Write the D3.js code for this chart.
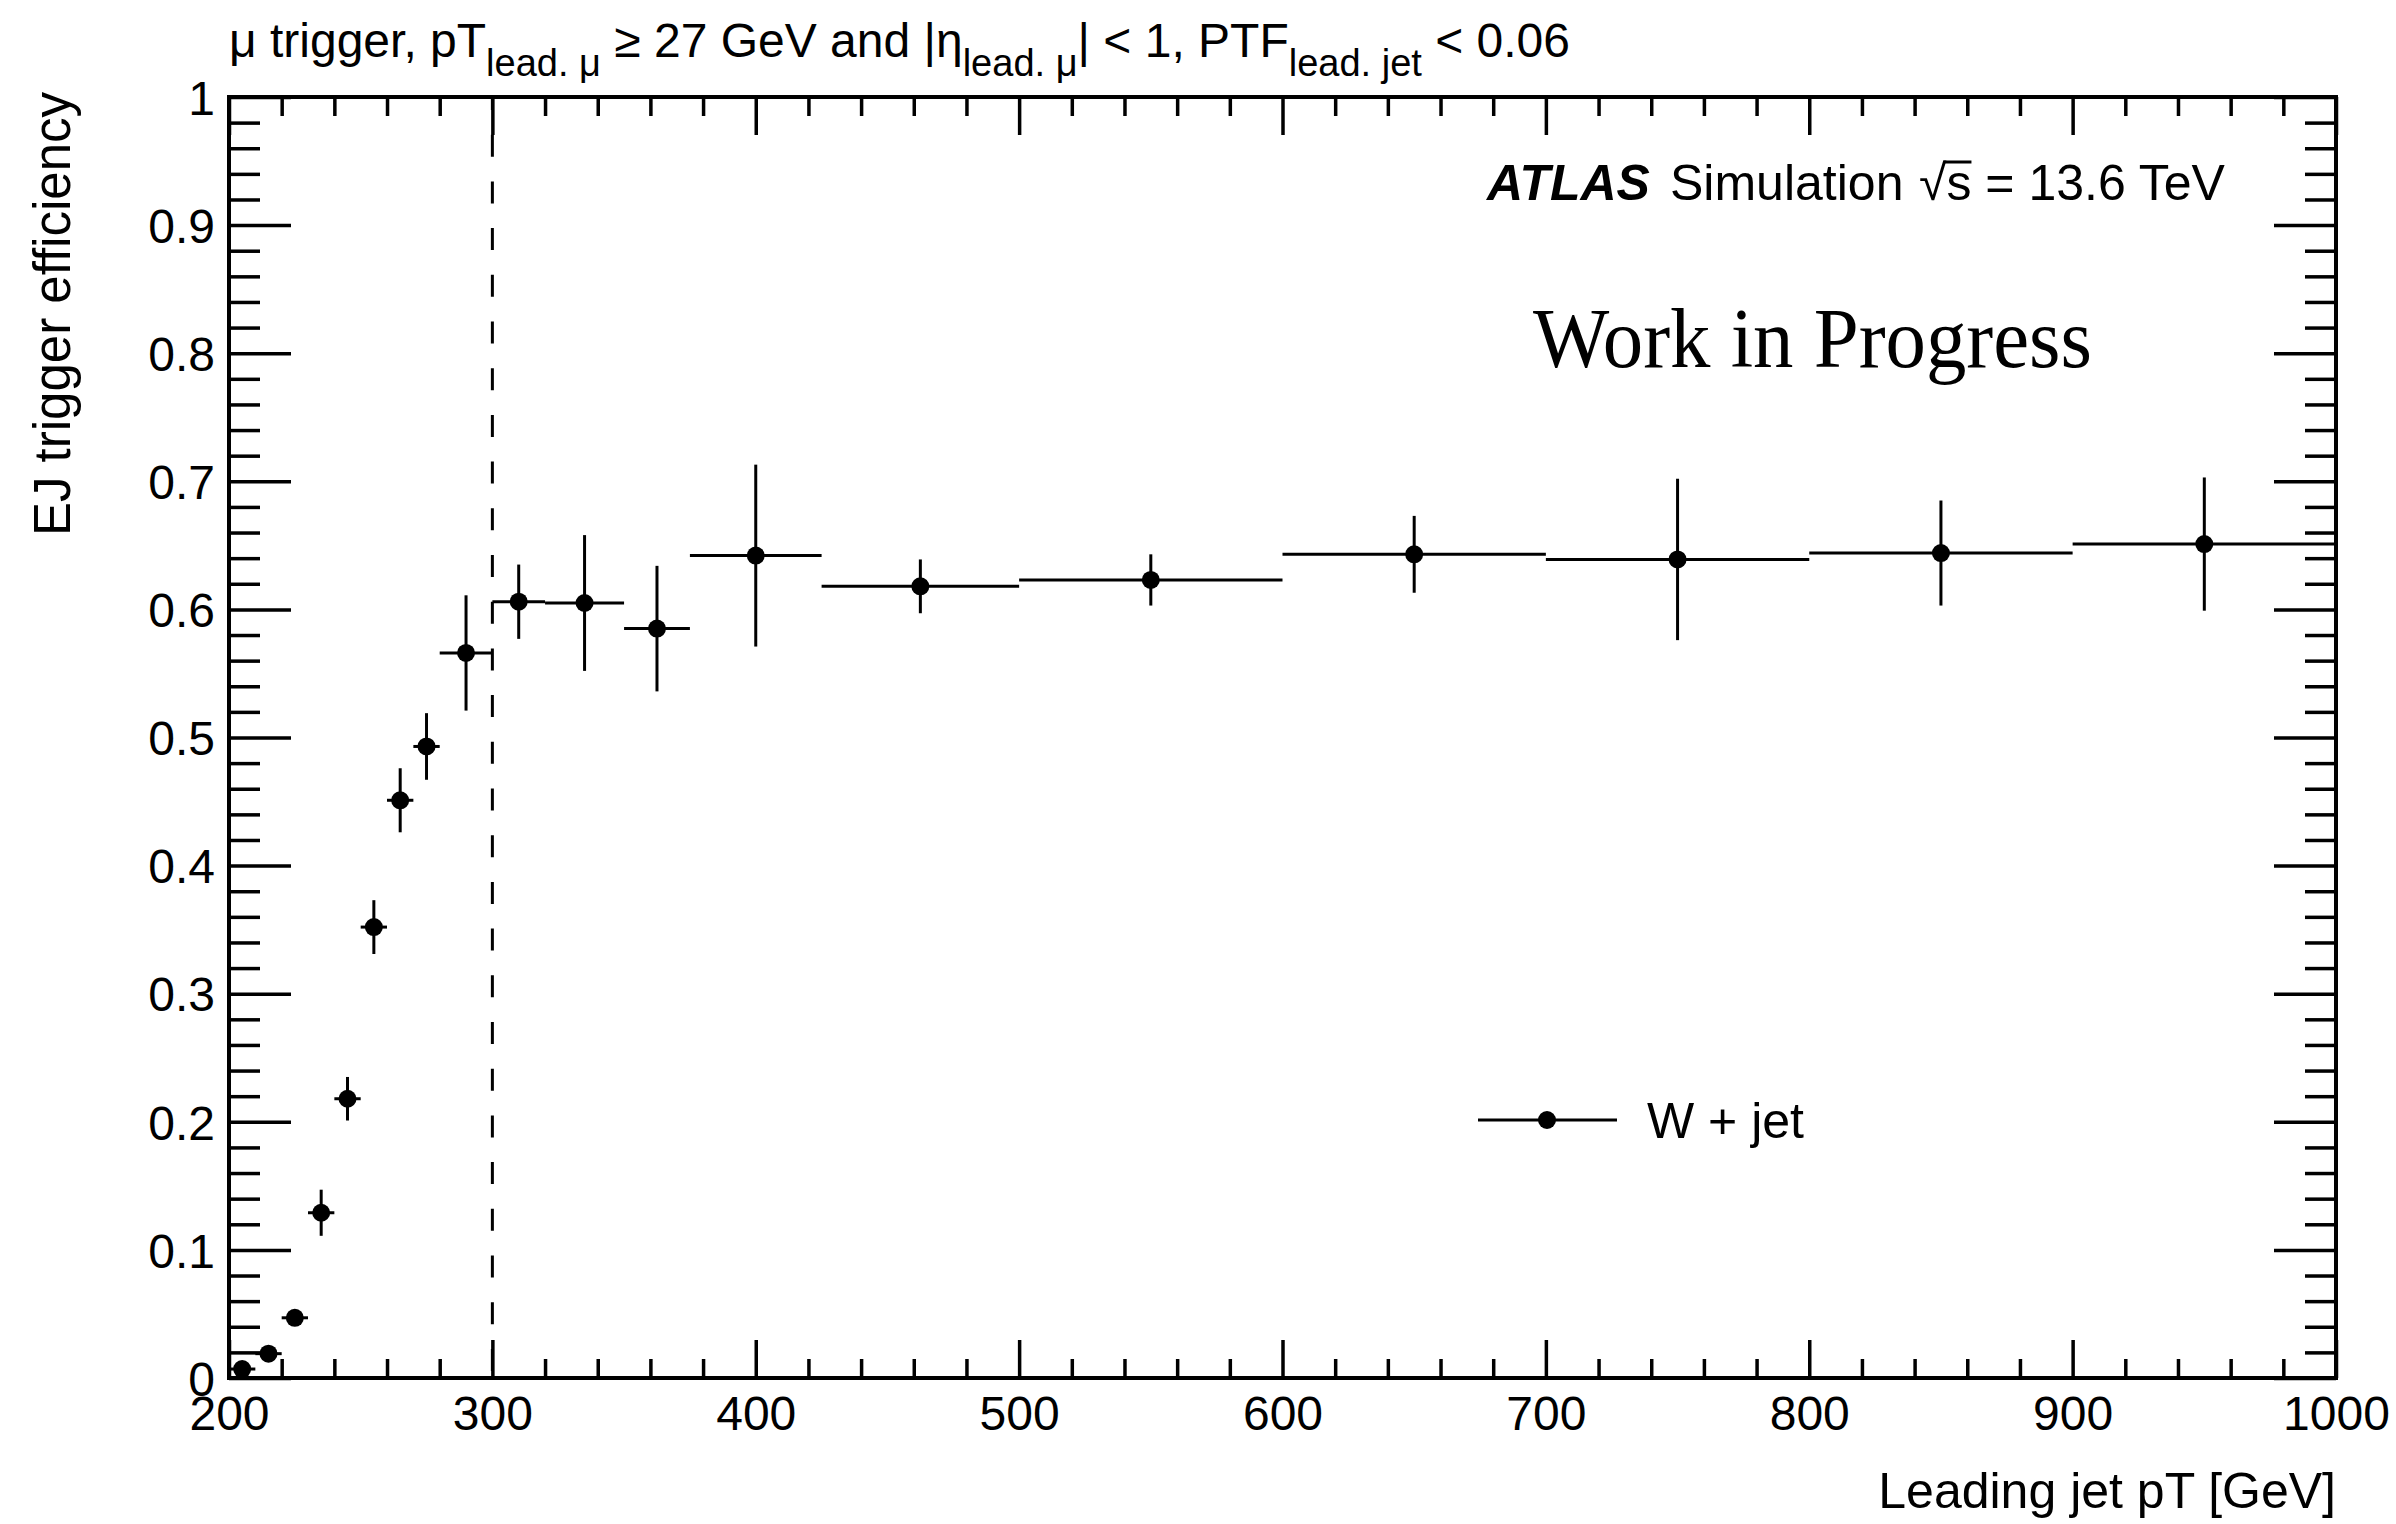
<!DOCTYPE html>
<html lang="en">
<head>
    <meta charset="UTF-8">
    <title>EJ trigger efficiency</title>
    <script src="https://d3js.org/d3.v7.min.js"></script>
    <style>
        body {
            margin: 0;
            background: #fff;
            font-family: "Liberation Sans", Arial, sans-serif;
        }
        svg {
            display: block;
        }
    </style>
</head>
<body>
    <div id="container"></div>

    <script>
        // bin edges (GeV)
        const binLow = [200, 210, 220, 230, 240, 250, 260, 270, 280, 300, 320, 350, 375, 425, 500, 600, 700, 800, 900];
        const binHigh = [210, 220, 230, 240, 250, 260, 270, 280, 300, 320, 350, 375, 425, 500, 600, 700, 800, 900, 1000];

        // efficiency per bin and its error
        const efficiency = [0.007, 0.019, 0.047, 0.129, 0.218, 0.352, 0.451, 0.493, 0.566, 0.606, 0.605, 0.585, 0.642, 0.618, 0.623, 0.643, 0.639, 0.644, 0.651];
        const efficiencyErr = [0.003, 0.004, 0.006, 0.018, 0.017, 0.021, 0.025, 0.026, 0.045, 0.029, 0.053, 0.049, 0.071, 0.021, 0.020, 0.030, 0.063, 0.041, 0.052];

        // tick labels
        const xTicks = [200, 300, 400, 500, 600, 700, 800, 900, 1000];
        const yTicks = [0, 0.1, 0.2, 0.3, 0.4, 0.5, 0.6, 0.7, 0.8, 0.9, 1];

        const cutValue = 300;
        const seriesName = 'W + jet';

        const data = binLow.map((lo, i) => ({
            lo: lo,
            hi: binHigh[i],
            x: (lo + binHigh[i]) / 2,
            y: efficiency[i],
            err: efficiencyErr[i]
        }));

        const width = 2396, height = 1524;
        const plotLeft = 229, plotRight = 2336, plotTop = 97, plotBottom = 1378;

        const svg = d3.select('#container').append('svg')
            .attr('width', width)
            .attr('height', height);

        svg.append('rect')
            .attr('width', width)
            .attr('height', height)
            .attr('fill', '#fff');

        // scales
        const x = d3.scaleLinear().domain([200, 1000]).range([plotLeft, plotRight]);
        const y = d3.scaleLinear().domain([0, 1]).range([plotBottom, plotTop]);

        const xMinor = d3.range(200, 1001, 20).filter(v => v % 100 !== 0);
        const yMinor = d3.range(0, 51).map(v => v / 50).filter((v, i) => i % 5 !== 0);

        const fontSize = 48;

        // ticks, ROOT style (pointing inwards on all four sides)
        function addAxis(axis, tx, ty) {
            const g = svg.append('g')
                .attr('transform', `translate(${tx},${ty})`)
                .call(axis);
            g.select('.domain').remove();
            g.selectAll('.tick line').attr('stroke', '#000').attr('stroke-width', 3.5);
            g.selectAll('.tick text')
                .attr('fill', '#000')
                .style('font-family', '"Liberation Sans", Arial, sans-serif')
                .style('font-size', fontSize + 'px');
            return g;
        }

        // bottom
        addAxis(d3.axisBottom(x).tickValues(xTicks).tickSize(-38).tickPadding(18).tickFormat(d3.format('d')), 0, plotBottom);
        addAxis(d3.axisBottom(x).tickValues(xMinor).tickSize(-19).tickFormat(''), 0, plotBottom);
        // top
        addAxis(d3.axisTop(x).tickValues(xTicks).tickSize(-38).tickFormat(''), 0, plotTop);
        addAxis(d3.axisTop(x).tickValues(xMinor).tickSize(-19).tickFormat(''), 0, plotTop);
        // left
        const yAx = addAxis(d3.axisLeft(y).tickValues(yTicks).tickSize(-62).tickPadding(14).tickFormat(d => d === 0 || d === 1 ? d3.format('d')(d) : d3.format('.1f')(d)), plotLeft, 0);
        yAx.selectAll('.tick text').attr('dy', '0.36em');
        addAxis(d3.axisLeft(y).tickValues(yMinor).tickSize(-31).tickFormat(''), plotLeft, 0);
        // right
        addAxis(d3.axisRight(y).tickValues(yTicks).tickSize(-62).tickFormat(''), plotRight, 0);
        addAxis(d3.axisRight(y).tickValues(yMinor).tickSize(-31).tickFormat(''), plotRight, 0);

        // frame
        svg.append('rect')
            .attr('x', plotLeft)
            .attr('y', plotTop)
            .attr('width', plotRight - plotLeft)
            .attr('height', plotBottom - plotTop)
            .attr('fill', 'none')
            .attr('stroke', '#000')
            .attr('stroke-width', 4);

        // dashed cut line
        svg.append('line')
            .attr('x1', x(cutValue))
            .attr('x2', x(cutValue))
            .attr('y1', y(1))
            .attr('y2', y(0))
            .attr('stroke', '#000')
            .attr('stroke-width', 3)
            .attr('stroke-dasharray', '22 24.7')
            .attr('stroke-dashoffset', 9);

        // error bars
        const points = svg.append('g');
        points.selectAll('.hbar')
            .data(data)
            .enter()
            .append('line')
            .attr('x1', d => x(d.lo))
            .attr('x2', d => x(d.hi))
            .attr('y1', d => y(d.y))
            .attr('y2', d => y(d.y))
            .attr('stroke', '#000')
            .attr('stroke-width', 3);

        points.selectAll('.vbar')
            .data(data)
            .enter()
            .append('line')
            .attr('x1', d => x(d.x))
            .attr('x2', d => x(d.x))
            .attr('y1', d => y(d.y - d.err))
            .attr('y2', d => y(d.y + d.err))
            .attr('stroke', '#000')
            .attr('stroke-width', 3);

        points.selectAll('circle')
            .data(data)
            .enter()
            .append('circle')
            .attr('cx', d => x(d.x))
            .attr('cy', d => y(d.y))
            .attr('r', 9)
            .attr('fill', '#000');

        // axis titles
        svg.append('text')
            .attr('x', plotRight)
            .attr('y', 1508)
            .attr('text-anchor', 'end')
            .style('font-size', '50px')
            .text('Leading jet pT [GeV]');

        svg.append('text')
            .attr('transform', 'translate(70,92) rotate(-90)')
            .attr('text-anchor', 'end')
            .style('font-size', '51px')
            .text('EJ trigger efficiency');

        // title with subscripts
        const title = svg.append('text')
            .attr('x', plotLeft)
            .attr('y', 57)
            .style('font-size', fontSize + 'px');
        const titleParts = [
            ['\u03bc trigger, pT', false],
            ['lead. \u03bc', true],
            [' \u2265 27 GeV and |\u03b7', false],
            ['lead. \u03bc', true],
            ['| < 1, PTF', false],
            ['lead. jet', true],
            [' < 0.06', false]
        ];
        let shifted = 0;
        titleParts.forEach(p => {
            const want = p[1] ? 19 : 0;
            title.append('tspan')
                .attr('dy', want - shifted)
                .style('font-size', p[1] ? '38px' : fontSize + 'px')
                .text(p[0]);
            shifted = want;
        });

        // ATLAS label
        const labelSize = 50;
        svg.append('text')
            .attr('x', 1487)
            .attr('y', 200)
            .style('font-size', labelSize + 'px')
            .style('font-weight', 'bold')
            .style('font-style', 'italic')
            .text('ATLAS');
        svg.append('text')
            .attr('x', 1670)
            .attr('y', 200)
            .style('font-size', labelSize + 'px')
            .text('Simulation');
        const sqrtText = svg.append('text')
            .attr('x', 1919)
            .attr('y', 200)
            .style('font-size', labelSize + 'px')
            .text('\u221as = 13.6 TeV');
        const node = sqrtText.node();
        const sStart = node.getStartPositionOfChar(1).x;
        const sEnd = node.getEndPositionOfChar(1).x;
        svg.append('line')
            .attr('x1', sStart - 3)
            .attr('x2', sEnd)
            .attr('y1', 200 - labelSize * 0.76)
            .attr('y2', 200 - labelSize * 0.76)
            .attr('stroke', '#000')
            .attr('stroke-width', 3);

        svg.append('text')
            .attr('x', 1533)
            .attr('y', 367)
            .attr('textLength', 559)
            .attr('lengthAdjust', 'spacingAndGlyphs')
            .style('font-family', '"Liberation Serif", "Times New Roman", serif')
            .style('font-size', '84px')
            .text('Work in Progress');

        // legend
        const legend = svg.append('g');
        legend.append('line')
            .attr('x1', 1478)
            .attr('x2', 1617)
            .attr('y1', 1120)
            .attr('y2', 1120)
            .attr('stroke', '#000')
            .attr('stroke-width', 3);
        legend.append('circle')
            .attr('cx', 1547)
            .attr('cy', 1120)
            .attr('r', 9)
            .attr('fill', '#000');
        legend.append('text')
            .attr('x', 1647)
            .attr('y', 1138)
            .style('font-size', '50px')
            .text(seriesName);
    </script>
</body>
</html>
